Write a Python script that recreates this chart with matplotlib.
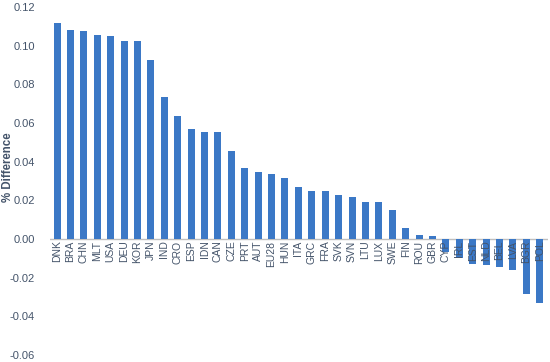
import matplotlib
matplotlib.use("Agg")
import matplotlib.pyplot as plt
import numpy as np

countries = ["DNK", "BRA", "CHN", "MLT", "USA", "DEU", "KOR", "JPN", "IND", "CRO",
             "ESP", "IDN", "CAN", "CZE", "PRT", "AUT", "EU28", "HUN", "ITA", "GRC",
             "FRA", "SVK", "SVN", "LTU", "LUX", "SWE", "FIN", "ROU", "GBR", "CYP",
             "IRL", "EST", "NLD", "BEL", "LVA", "BGR", "POL"]
diff = [0.1116, 0.1081, 0.1074, 0.1055, 0.1048, 0.1022, 0.1022, 0.0923, 0.0735, 0.0637,
        0.0567, 0.0552, 0.0552, 0.0455, 0.0368, 0.0345, 0.0337, 0.0317, 0.0270, 0.0248,
        0.0248, 0.0227, 0.0219, 0.0193, 0.0190, 0.0149, 0.0058, 0.0020, 0.0015, -0.0068,
        -0.0097, -0.0127, -0.0136, -0.0145, -0.0160, -0.0283, -0.0330]
yticks = [-0.06, -0.04, -0.02, 0.00, 0.02, 0.04, 0.06, 0.08, 0.10, 0.12]

txt = "#44546a"
plt.rcParams['font.family'] = ['Liberation Sans', 'DejaVu Sans']

fig = plt.figure(figsize=(5.5, 3.62), dpi=100)
ax = fig.add_axes([0.091, 0.019, 0.905, 0.962])

x = np.arange(len(countries))
ax.bar(x, diff, width=0.52, color="#3b78c6", zorder=2)
ax.axhline(0, color="#bfbfbf", lw=1, zorder=1)

ax.set_xlim(-0.52, len(countries) - 0.4)
ax.set_ylim(-0.06, 0.12)
ax.set_yticks(yticks)
ax.set_yticklabels(["%.2f" % v for v in yticks], color=txt, fontsize=8)
ax.tick_params(axis='y', length=0, pad=11)
ax.set_xticks([])
for s in ax.spines.values():
    s.set_visible(False)

for xi, name in zip(x, countries):
    ax.text(xi, -0.0008, name, rotation=90, ha='center', va='top',
            fontsize=7.5, color=txt, zorder=3)

ax.set_ylabel("% Difference", color=txt, fontsize=8.3, fontweight='bold')
ax.yaxis.set_label_coords(-0.073, 0.54)

fig.savefig("out.png", dpi=100)
